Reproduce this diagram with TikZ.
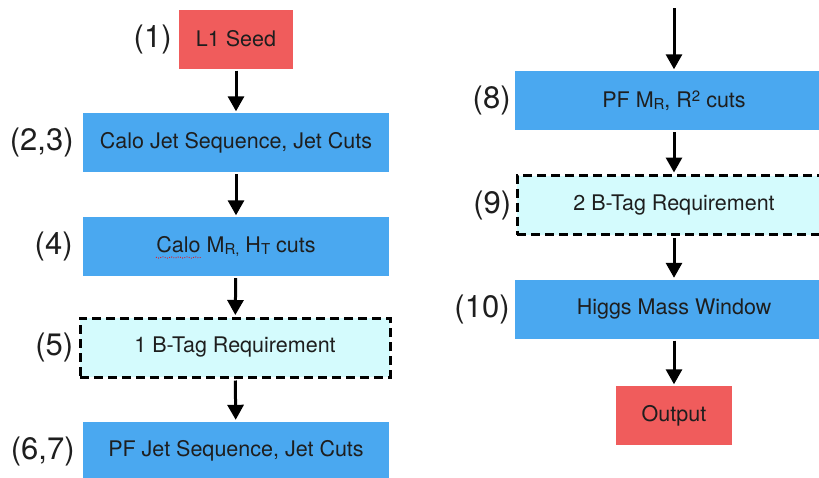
\documentclass[tikz,border=0pt]{standalone}
\usepackage{fontspec}
\setmainfont{TeX Gyre Heros}
\usetikzlibrary{arrows.meta,decorations.pathmorphing}

\definecolor{seedred}{RGB}{240,92,92}
\definecolor{stepblue}{RGB}{74,168,240}
\definecolor{tagcyan}{RGB}{212,251,253}
\definecolor{inkgray}{RGB}{30,30,30}

% small lowered / raised indices in running text
\newcommand{\lowidx}[1]{\raisebox{-2.5pt}{\fontsize{15}{15}\selectfont #1}}
\newcommand{\highidx}[1]{\raisebox{6pt}{\fontsize{15}{15}\selectfont #1}}

\tikzset{
  box/.style={minimum height=59pt, inner sep=0pt, text=inkgray,
              font=\fontsize{21.5}{26}\selectfont},
  seedbox/.style={box, fill=seedred, minimum width=114pt},
  cutbox/.style={box, fill=stepblue},
  tagbox/.style={box, fill=tagcyan, draw=black, line width=3pt,
                 dash pattern=on 9pt off 5pt},
  stagelabel/.style={anchor=east, inner sep=0pt, text=inkgray,
                     font=\fontsize{31}{36}\selectfont},
  flow/.style={line width=3pt, -{Triangle[width=16pt,length=15pt]},
               shorten >=1.5pt, shorten <=2pt},
}

\begin{document}
\begin{tikzpicture}[x=1pt,y=-1pt]
  \useasboundingbox (0,0) rectangle (819,477);

  % left column
  \node[seedbox] (seed) at (236,39) {L1 Seed};
  \node[cutbox, minimum width=306pt] (calojet) at (236,142.5) {Calo Jet Sequence, Jet Cuts};
  \node[cutbox, minimum width=306pt] (calomr) at (236,246.5) {Calo M\lowidx{R,} H\lowidx{T} cuts};
  \node[tagbox, minimum width=310pt] (btag1) at (235,347.5) {1 B-Tag Requirement};
  \node[cutbox, minimum width=306pt] (pfjet) at (236,451) {PF Jet Sequence, Jet Cuts};

  % right column
  \coordinate (entry) at (674,8);
  \node[cutbox, minimum width=318pt] (pfmr) at (674,100.5) {PF M\lowidx{R}, R\highidx{2} cuts};
  \node[tagbox, minimum width=314pt] (btag2) at (674,205) {2 B-Tag Requirement};
  \node[cutbox, minimum width=318pt] (higgs) at (674,309) {Higgs Mass Window};
  \node[seedbox, minimum width=116pt] (output) at (674,415.5) {Output};

  % spell-check mark under "Calo"
  \draw[red, line width=0.8pt, dotted,
        decorate, decoration={snake, amplitude=0.6pt, segment length=3pt}]
    ([shift={(-80,11)}]calomr.center) -- ([shift={(-35,11)}]calomr.center);

  % stage numbers
  \node[stagelabel] (l1)  at ([xshift=-7pt]seed.west)    {(1)};
  \node[stagelabel] (l23) at ([xshift=-9pt]calojet.west) {(2,3)};
  \node[stagelabel] (l4)  at ([xshift=-10pt]calomr.west) {(4)};
  \node[stagelabel] (l5)  at ([xshift=-5pt]btag1.west)   {(5)};
  \node[stagelabel] (l67) at ([xshift=-8pt]pfjet.west)   {(6,7)};
  \node[stagelabel] (l8)  at ([xshift=-4pt]pfmr.west)    {(8)};
  \node[stagelabel] (l9)  at ([xshift=-4pt]btag2.west)   {(9)};
  \node[stagelabel] (l10) at ([xshift=-5pt]higgs.west)   {(10)};

  % flow arrows
  \draw[flow] (seed) -- (calojet);
  \draw[flow] (calojet) -- (calomr);
  \draw[flow] (calomr) -- (btag1);
  \draw[flow] (btag1) -- (pfjet);
  \draw[flow, shorten <=0pt] (entry) -- (pfmr);
  \draw[flow] (pfmr) -- (btag2);
  \draw[flow] (btag2) -- (higgs);
  \draw[flow] (higgs) -- (output);
\end{tikzpicture}
\end{document}
